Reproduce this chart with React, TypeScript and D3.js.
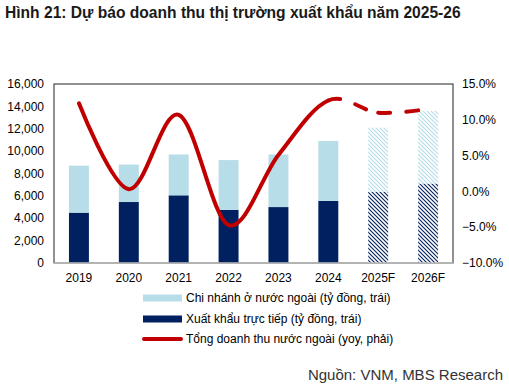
import * as d3 from "d3";

const WIDTH = 509;
const HEIGHT = 387;
const PLOT = { left: 54, right: 453, top: 84, bottom: 263 };

const years = ["2019", "2020", "2021", "2022", "2023", "2024", "2025F", "2026F"];
const forecastYears = ["2025F", "2026F"];
// tỷ đồng, left axis
const directExport = [4500, 5450, 6050, 4750, 5000, 5550, 6350, 7100];
const overseasBranch = [4200, 3350, 3650, 4450, 4700, 5350, 5750, 6500];
// yoy %, right axis
const yoyGrowth = [12.3, 0.3, 10.7, -4.7, 5.1, 12.7, 11.0, 11.5];

const leftTicks = [0, 2000, 4000, 6000, 8000, 10000, 12000, 14000, 16000];
const rightTicks = [-10, -5, 0, 5, 10, 15];

const LIGHT_BLUE = "#b7dde8";
const NAVY = "#002060";
const RED = "#c00000";
const FONT = "'Liberation Sans', Arial, sans-serif";

export default function App() {
  const x = d3
    .scaleBand()
    .domain(years)
    .range([PLOT.left, PLOT.right])
    .paddingInner(0.6)
    .paddingOuter(0.3);

  const yLeft = d3.scaleLinear().domain([0, 16000]).range([PLOT.bottom, PLOT.top]);
  const yRight = d3.scaleLinear().domain([-10, 15]).range([PLOT.bottom, PLOT.top]);

  const bars = years.map((year, i) => ({
    year,
    direct: directExport[i],
    branch: overseasBranch[i],
    forecast: forecastYears.includes(year),
  }));

  // record each bezier piece of the smoothed line so forecast segments can be dashed
  const pieces: { from: [number, number]; c: number[] }[] = [];
  let last: [number, number] = [0, 0];
  const recorder: any = {
    moveTo(px: number, py: number) {
      last = [px, py];
    },
    lineTo(px: number, py: number) {
      pieces.push({ from: last, c: [px, py, px, py, px, py] });
      last = [px, py];
    },
    bezierCurveTo(a: number, b: number, c: number, d: number, px: number, py: number) {
      pieces.push({ from: last, c: [a, b, c, d, px, py] });
      last = [px, py];
    },
    closePath() {},
  };
  d3.line<number>()
    .x((_, i) => (x(years[i]) ?? 0) + x.bandwidth() / 2)
    .y((v) => yRight(v))
    .curve(d3.curveCardinal.tension(0))
    .context(recorder)(yoyGrowth);

  const firstForecast = years.indexOf(forecastYears[0]);
  const solidPieces = pieces.slice(0, firstForecast - 1);
  const dashedPieces = pieces.slice(firstForecast - 1);
  const solidPath =
    `M${solidPieces[0].from.join(",")}` + solidPieces.map((p) => `C${p.c.join(",")}`).join("");

  return (
    <svg
      width={WIDTH}
      height={HEIGHT}
      style={{ position: "absolute", left: 0, top: 0, background: "#fff" }}
      fontFamily={FONT}
    >
      <defs>
        <pattern id="hatchLight" width={4} height={4} patternUnits="userSpaceOnUse">
          <rect width={4} height={4} fill="#fff" />
          <path d="M-1,-1L5,5M3,-1L5,1M-1,3L1,5" stroke={LIGHT_BLUE} strokeWidth={1.1} />
        </pattern>
        <pattern id="hatchNavy" width={4} height={4} patternUnits="userSpaceOnUse">
          <rect width={4} height={4} fill="#fff" />
          <path d="M-1,-1L5,5M3,-1L5,1M-1,3L1,5" stroke={NAVY} strokeWidth={1.1} />
        </pattern>
      </defs>

      <text x={5} y={18} fontSize={15.6} fontWeight="bold" fill="#1a1a1a">
        Hình 21: Dự báo doanh thu thị trường xuất khẩu năm 2025-26
      </text>

      {/* plot frame */}
      <rect
        x={PLOT.left}
        y={PLOT.top}
        width={PLOT.right - PLOT.left}
        height={PLOT.bottom - PLOT.top}
        fill="none"
        stroke="#222"
        strokeWidth={1}
      />

      {bars.map((d) => {
        const bx = x(d.year) ?? 0;
        return (
          <g key={d.year}>
            <rect
              x={bx}
              y={yLeft(d.direct)}
              width={x.bandwidth()}
              height={PLOT.bottom - yLeft(d.direct)}
              fill={d.forecast ? "url(#hatchNavy)" : NAVY}
            />
            <rect
              x={bx}
              y={yLeft(d.direct + d.branch)}
              width={x.bandwidth()}
              height={yLeft(d.direct) - yLeft(d.direct + d.branch)}
              fill={d.forecast ? "url(#hatchLight)" : LIGHT_BLUE}
            />
          </g>
        );
      })}

      <line x1={PLOT.left} x2={PLOT.right} y1={PLOT.bottom} y2={PLOT.bottom} stroke="#bfbfbf" strokeWidth={1.5} />

      <path d={solidPath} fill="none" stroke={RED} strokeWidth={4} strokeLinecap="round" />
      {dashedPieces.map((p, i) => (
        <path
          key={i}
          d={`M${p.from.join(",")}C${p.c.join(",")}`}
          fill="none"
          stroke={RED}
          strokeWidth={4}
          strokeLinecap="round"
          strokeDasharray="12 16"
        />
      ))}

      {leftTicks.map((t) => (
        <text key={t} x={44} y={yLeft(t)} dy="0.35em" textAnchor="end" fontSize={12} fill="#000">
          {d3.format(",")(t)}
        </text>
      ))}
      {rightTicks.map((t) => (
        <text key={t} x={462} y={yRight(t)} dy="0.35em" fontSize={12} fill="#000">
          {d3.format(".1f")(t)}%
        </text>
      ))}
      {years.map((year) => (
        <text
          key={year}
          x={(x(year) ?? 0) + x.bandwidth() / 2}
          y={282}
          textAnchor="middle"
          fontSize={12}
          fill="#000"
        >
          {year}
        </text>
      ))}

      {/* legend */}
      <g fontSize={12} fill="#000">
        <rect x={143} y={294.5} width={39} height={7} fill={LIGHT_BLUE} />
        <text x={186} y={298} dy="0.35em">Chi nhánh ở nước ngoài (tỷ đồng, trái)</text>
        <rect x={143} y={315.5} width={39} height={7} fill={NAVY} />
        <text x={186} y={319} dy="0.35em">Xuất khẩu trực tiếp (tỷ đồng, trái)</text>
        <line x1={144} x2={181} y1={339} y2={339} stroke={RED} strokeWidth={4} strokeLinecap="round" />
        <text x={186} y={339} dy="0.35em">Tổng doanh thu nước ngoài (yoy, phải)</text>
      </g>

      <text x={503} y={380} textAnchor="end" fontSize={15} fill="#333">
        Nguồn: VNM, MBS Research
      </text>
    </svg>
  );
}
